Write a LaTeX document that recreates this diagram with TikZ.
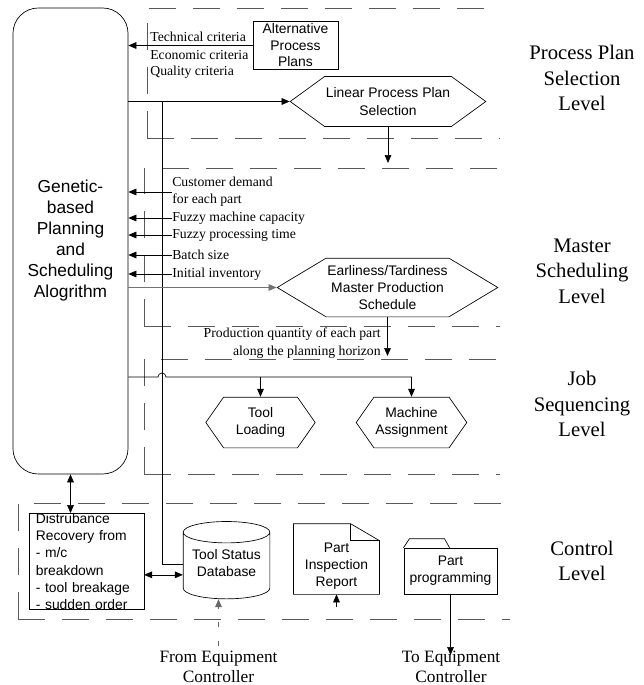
\documentclass[tikz,border=0pt]{standalone}
\usepackage{fontspec}
\setmainfont{Liberation Serif}
\setsansfont{Liberation Sans}
\usetikzlibrary{arrows.meta,positioning,shapes.geometric,shapes.symbols}

\begin{document}
\begin{tikzpicture}[x=0.75pt,y=-0.75pt,>={Triangle[length=6pt,width=5pt]},line width=0.5pt,
    box/.style={draw,rectangle,font=\sffamily\fontsize{10.4}{12.9}\selectfont,align=center,inner sep=1pt},
    plan/.style={draw,signal,signal to=west and east,font=\sffamily\fontsize{10.4}{12.9}\selectfont,align=center,inner sep=1pt},
    crit/.style={font=\fontsize{10.3}{13}\selectfont,inner sep=0pt,anchor=west,align=left},
    levelname/.style={font=\fontsize{15.5}{19}\selectfont,align=center},
    ctrlname/.style={font=\fontsize{13}{15.5}\selectfont,align=center},
    frame/.style={draw=black!65,dash pattern=on 20pt off 13pt}]

                \useasboundingbox (0,0) rectangle (643,685);

                % level frames
                \foreach \t/\b/\l/\r in {8/138/147/500, 168/326/144/500, 359/474/144/500, 503/619/18/510}
                    {
                    \draw[frame] (\l,\b) -- (\l,\t) -- (\r,\t);
                    \draw[frame] (\l,\b) -- (\r,\b);
                    }

                \node[levelname] (lvlpps) at (582,78) {Process Plan\\Selection\\Level};
                \node[levelname] (lvlms) at (582,271) {Master\\Scheduling\\Level};
                \node[levelname] (lvljs) at (582,404) {Job\\Sequencing\\Level};
                \node[levelname] (lvlc) at (582,561) {Control\\Level};

                \node[draw,rounded corners=19pt,minimum width=86.25pt,minimum height=349.5pt,
                      font=\sffamily\fontsize{13}{15.75}\selectfont,align=center] (gpsa) at (70.5,241)
                      {Genetic-\\based\\Planning\\and\\Scheduling\\Alogrithm};

                % process plan selection level
                \node[box,minimum width=63.75pt,minimum height=36pt,font=\sffamily\fontsize{10.4}{12.4}\selectfont]
                      (app) at (295.5,45.5) {Alternative\\Process\\Plans};
                \node[crit] (tech) at (150,37) {Technical criteria};
                \node[crit] (econ) at (150,55) {Economic criteria};
                \node[crit] (qual) at (150,72) {Quality criteria};
                \node[plan,minimum width=132pt,minimum height=37.5pt,signal pointer angle=72] (lpps) at (388,101.5)
                      {Linear Process Plan\\Selection};
                \coordinate (lppsout) at (388,163);

                % master scheduling level
                \node[crit] (cust) at (172,192) {Customer demand\\for each part};
                \node[crit] (fmc) at (172,218) {Fuzzy machine capacity};
                \node[crit] (fpt) at (172,235) {Fuzzy processing time};
                \node[crit] (bs) at (172,255) {Batch size};
                \node[crit] (ii) at (172,274) {Initial inventory};
                \node[plan,minimum width=161pt,minimum height=44pt,signal pointer angle=62] (etmps) at (387.5,287.5)
                      {Earliness/Tardiness\\Master Production\\Schedule};
                \node[crit,anchor=east,align=right] (pq) at (381,343) {Production quantity of each part\\along the planning horizon};
                \coordinate (etmpsout) at (387.5,356);

                % job sequencing level
                \node[plan,minimum width=82pt,minimum height=38pt,signal pointer angle=110] (tl) at (260.5,422.5) {Tool\\Loading};
                \node[plan,minimum width=82pt,minimum height=38pt,signal pointer angle=110] (ma) at (411.5,422.5) {Machine\\Assignment};
                \coordinate (hop) at (158,377);

                % control level
                \node[box,align=left,text width=76pt,inner xsep=5pt,inner ysep=0pt,minimum height=71.25pt] (drf) at (86.5,561.5)
                      {Distrubance\\Recovery from\\- m/c\\breakdown\\- tool breakage\\- sudden order};
                \node[box,cylinder,shape border rotate=90,aspect=0.3,minimum width=65pt,minimum height=58pt,text height=14pt]
                      (tsd) at (226.5,567) {Tool Status\\Database};
                \node[box,draw=none,minimum width=64pt,minimum height=42pt] (pir) at (336.5,566) {Part\\Inspection\\Report};
                \node[box,minimum width=70pt,minimum height=34.5pt] (pp) at (450.5,571) {Part\\programming};
                \node[ctrlname] (fec) at (218.5,667) {From Equipment\\Controller};
                \node[ctrlname] (tec) at (451,667) {To Equipment\\Controller};
                \coordinate (pirin) at (336.5,607);
                \coordinate (ppout) at (450.5,655);
                \coordinate (bus) at (162,101.5);

                % document and folder outlines
                \draw ([yshift=10.5pt]pir.north west) -- ([xshift=-21.75pt,yshift=10.5pt]pir.north east)
                      -- ([yshift=-2.25pt]pir.north east) -- (pir.south east) -- (pir.south west) -- cycle;
                \draw ([xshift=-21.75pt,yshift=10.5pt]pir.north east) -- ++(0,-12.75pt) -- ([yshift=-2.25pt]pir.north east);
                \draw (pp.north west) -- ++(4.5pt,6.75pt) -- ++(26.25pt,0) -- ++(3.75pt,-6.75pt);

                % connectors
                \draw[->] (app) -- (app -| gpsa.east);
                \draw[->] (gpsa.east |- lpps) -- (lpps.west);
                \draw[->] (lpps.south) -- (lppsout);
                \draw (bus) |- ([yshift=2pt]tsd.west);

                \foreach \n in {cust,fmc,fpt,bs,ii}
                    {
                    \draw[->] (\n.west) -- (\n.west -| gpsa.east);
                    }

                \draw[->,draw=black!55] (gpsa.east |- etmps) -- (etmps.west);
                \draw[->] (etmps.south) -- (etmpsout);

                \draw[->] (gpsa.east |- hop) -- (hop) arc[start angle=180,end angle=0,radius=3pt] -| (ma.north);
                \draw[->] (tl.north |- hop) -- (tl.north);

                \draw[<->] (gpsa.south) -- (gpsa.south |- drf.north);
                \draw[<->] ([yshift=-10pt]drf.east) -- ([yshift=-10pt]drf.east -| tsd.west);
                \draw[->,draw=black!60,dash pattern=on 4pt off 10pt] (fec.north) -- (fec.north |- tsd.south);
                \draw[->] (pirin) -- (pir.south);
                \draw[->] (pp.south) -- (ppout);

\end{tikzpicture}
\end{document}
